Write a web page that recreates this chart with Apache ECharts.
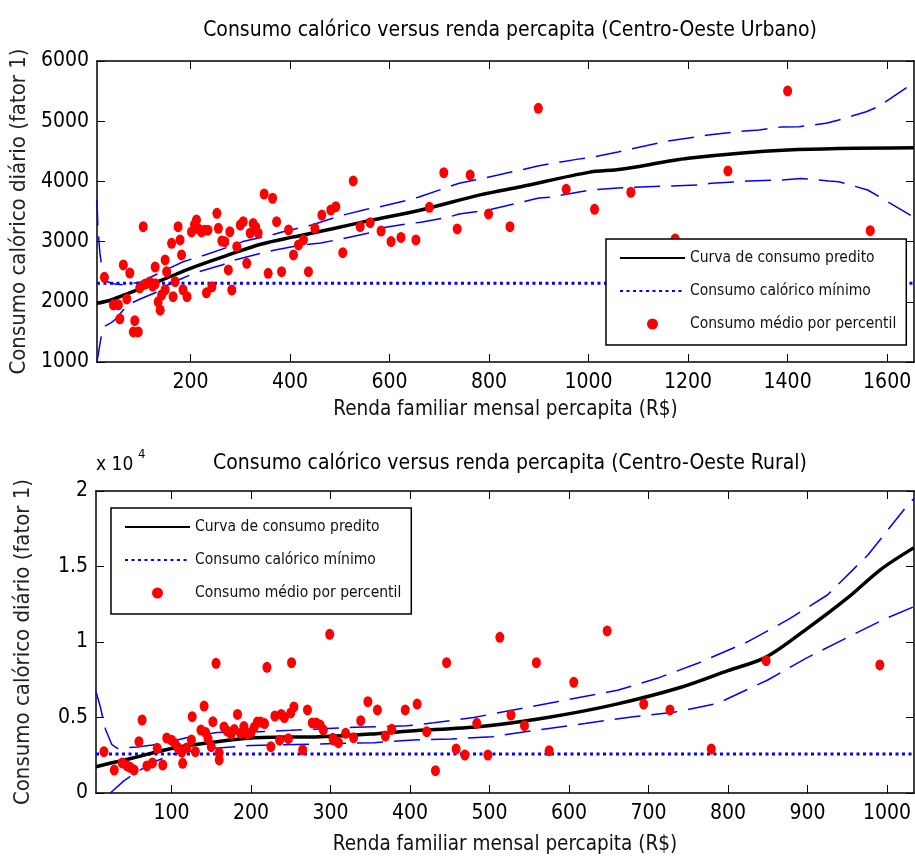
<!DOCTYPE html>
<html>
<head>
<meta charset="utf-8">
<title>Consumo calórico versus renda percapita</title>
<script src="https://cdn.jsdelivr.net/npm/echarts@6/dist/echarts.min.js"></script>
<style>
    html, body { margin: 0; padding: 0; background: #fff; }
    #chart { width: 915px; height: 861px; }
</style>
</head>
<body>
<div id="chart"></div>
<script>
// ---- Centro-Oeste Urbano ----
var urbanoXRange = [12, 1654];
var urbanoXTicks = [200, 400, 600, 800, 1000, 1200, 1400, 1600];
var urbanoYRange = [1000, 6000];
var urbanoMinimo = 2310;

var urbanoPredito = [[12, 1975], [40, 2030], [75, 2140], [142, 2360], [209, 2584], [276, 2778], [343, 2960],
    [410, 3082], [490, 3221], [560, 3350], [663, 3525], [784, 3780], [864, 3912], [1000, 4150], [1065, 4201],
    [1200, 4383], [1400, 4522], [1654, 4560]];

var urbanoSup = [[12, 3700], [14, 3200], [18, 2800], [24, 2450], [30, 2340], [45, 2300], [68, 2280], [100, 2330],
    [130, 2450], [185, 2666], [229, 2778], [283, 2930], [305, 3000], [363, 3110], [386, 3165], [444, 3275],
    [499, 3425], [556, 3540], [579, 3575], [637, 3690], [659, 3740], [717, 3905], [740, 3970], [798, 4070],
    [818, 4105], [898, 4255], [920, 4290], [979, 4370], [1001, 4390], [1059, 4490], [1160, 4671], [1220, 4742],
    [1240, 4771], [1313, 4837], [1343, 4854], [1387, 4904], [1423, 4909], [1477, 4965], [1503, 5020],
    [1558, 5158], [1582, 5241], [1642, 5573], [1654, 5640]];

var urbanoInf = [[12, 1000], [20, 1400], [27, 1590], [40, 1650], [48, 1700], [74, 1950], [100, 2050], [129, 2150],
    [147, 2250], [185, 2395], [209, 2480], [263, 2610], [289, 2695], [343, 2810], [370, 2860], [423, 2944],
    [462, 2977], [502, 3043], [559, 3143], [583, 3226], [639, 3300], [663, 3320], [720, 3410], [740, 3459],
    [798, 3525], [824, 3575], [900, 3725], [925, 3740], [981, 3824], [1005, 3857], [1059, 3890], [1162, 3924],
    [1222, 3940], [1246, 3968], [1321, 4007], [1387, 4023], [1427, 4050], [1483, 4007], [1503, 3995],
    [1561, 3857], [1584, 3746], [1644, 3453], [1654, 3400]];

var urbanoPontos = [[27, 2407], [45, 1950], [55, 1950], [58, 1715], [65, 2612], [72, 2047], [78, 2478], [88, 1686],
    [85, 1500], [95, 1500], [105, 3248], [98, 2230], [108, 2290], [118, 2330], [124, 2260], [129, 2300],
    [129, 2578], [135, 2000], [139, 1860], [149, 2695], [152, 2500], [142, 2113], [149, 2200], [165, 2085],
    [162, 2972], [175, 3248], [179, 3027], [182, 2778], [185, 2200], [193, 2085], [169, 2334], [202, 3160],
    [208, 3280], [212, 3360], [216, 3210], [222, 3160], [228, 3190], [235, 3190], [232, 2150], [243, 2250],
    [253, 3470], [256, 3221], [263, 3010], [269, 2998], [276, 2530], [279, 3165], [283, 2196], [293, 2916],
    [300, 3275], [306, 3330], [313, 2640], [320, 3140], [326, 3300], [331, 3240], [336, 3140], [348, 3790],
    [365, 3720], [356, 2474], [373, 3330], [383, 2500], [397, 3193], [407, 2778], [417, 2944], [427, 3027],
    [437, 2500], [450, 3221], [464, 3440], [482, 3525], [492, 3580], [506, 2816], [527, 4007], [541, 3250],
    [561, 3315], [583, 3176], [603, 3000], [623, 3070], [653, 3027], [680, 3570], [709, 4145], [736, 3210],
    [762, 4106], [799, 3459], [842, 3248], [899, 5214], [955, 3869], [1012, 3537], [1085, 3820], [1174, 3043],
    [1280, 4173], [1400, 5502], [1566, 3181]];

// ---- Centro-Oeste Rural ----
var ruralXRange = [5, 1034];
var ruralXTicks = [100, 200, 300, 400, 500, 600, 700, 800, 900, 1000];
var ruralYRange = [0, 20000];
var ruralMinimo = 2580;

var ruralPredito = [[5, 1740], [25, 2000], [50, 2300], [100, 2950], [150, 3350], [200, 3650], [287, 3730],
    [350, 3900], [400, 4100], [489, 4400], [573, 5000], [657, 5850], [741, 7000], [800, 8100], [848, 9000],
    [900, 10900], [950, 12900], [992, 14800], [1034, 16250]];

var ruralSup = [[5, 6700], [10, 5800], [17, 4200], [25, 3200], [32, 2950], [57, 3050], [76, 3180], [107, 3510],
    [124, 3730], [157, 4000], [208, 4060], [250, 4150], [290, 4250], [330, 4350], [396, 4450], [430, 4650],
    [480, 5000], [535, 5550], [585, 6050], [635, 6550], [661, 6800], [711, 7594], [762, 8590], [825, 10020],
    [875, 11460], [925, 13113], [976, 15760], [1026, 19070], [1034, 19500]];

var ruralInf = [[23, 0], [40, 800], [57, 1413], [80, 2100], [103, 2600], [150, 2950], [200, 3150], [287, 3245],
    [355, 3333], [404, 3510], [452, 3580], [503, 3730], [560, 4170], [620, 4600], [681, 5055], [732, 5344],
    [787, 5940], [850, 7484], [898, 8920], [948, 10245], [999, 11570], [1034, 12340]];

var ruralPontos = [[15, 2740], [28, 1520], [38, 1990], [44, 1800], [48, 1700], [53, 1520], [59, 3400], [63, 4835],
    [69, 1790], [76, 1990], [82, 2960], [89, 1855], [94, 3640], [100, 3500], [104, 3300], [108, 3000],
    [113, 2700], [114, 1967], [119, 2980], [125, 3510], [126, 5053], [130, 2740], [137, 4170], [141, 5760],
    [143, 4000], [146, 3600], [150, 3070], [152, 4722], [156, 8590], [160, 2650], [160, 2190], [166, 4370],
    [170, 4100], [175, 3900], [179, 4200], [183, 5200], [187, 3950], [191, 4400], [196, 3900], [200, 4000],
    [204, 4350], [208, 4700], [212, 4700], [217, 4600], [220, 8320], [225, 3070], [230, 5100], [236, 3500],
    [238, 5200], [242, 5000], [247, 3600], [250, 5300], [254, 5700], [251, 8630], [265, 2850], [271, 5500],
    [277, 4640], [282, 4640], [287, 4500], [291, 4170], [299, 10510], [303, 3620], [304, 3510], [310, 3330],
    [319, 3950], [329, 3665], [338, 4790], [347, 6050], [359, 5500], [369, 3775], [377, 4220], [394, 5500],
    [409, 5890], [421, 4060], [432, 1480], [446, 8630], [458, 2914], [469, 2517], [484, 4616], [498, 2517],
    [513, 10310], [527, 5166], [544, 4460], [559, 8630], [575, 2800], [606, 7330], [648, 10730], [694, 5890],
    [727, 5500], [779, 2914], [848, 8760], [991, 8480]];

var NOME_PRED = 'Curva de consumo predito';
var NOME_MIN = 'Consumo calórico mínimo';
var NOME_PONTOS = 'Consumo médio por percentil';

var FONT = "'Liberation Sans Narrow', 'Arial Narrow', 'DejaVu Sans Condensed', sans-serif";

function plain(v) {
    return String(v);
}

function makeXAxes(grid, range, ticks, gap) {
    var line = { show: true, onZero: false, lineStyle: { color: '#000', width: 1.5 } };
    var tick = { show: true, inside: true, length: 8, customValues: ticks, lineStyle: { color: '#000', width: 1 } };
    return [{
        type: 'value', gridIndex: grid, position: 'bottom',
        min: range[0], max: range[1],
        name: 'Renda familiar mensal percapita (R$)',
        nameLocation: 'middle', nameGap: gap,
        nameTextStyle: { fontFamily: FONT, fontSize: 20.5, color: '#111' },
        axisLine: line, axisTick: tick,
        axisLabel: { customValues: ticks, margin: 10, fontFamily: FONT, fontSize: 21, color: '#000', formatter: plain },
        splitLine: { show: false }
    }, {
        type: 'value', gridIndex: grid, position: 'top',
        min: range[0], max: range[1],
        axisLine: line, axisTick: tick,
        axisLabel: { show: false }, splitLine: { show: false }
    }];
}

function makeYAxes(grid, range, step, fmt) {
    var line = { show: true, onZero: false, lineStyle: { color: '#000', width: 1.5 } };
    var tick = { show: true, inside: true, length: 8, lineStyle: { color: '#000', width: 1 } };
    return [{
        type: 'value', gridIndex: grid, position: 'left',
        min: range[0], max: range[1], interval: step,
        name: 'Consumo calórico diário (fator 1)',
        nameLocation: 'middle', nameGap: 62,
        nameTextStyle: { fontFamily: FONT, fontSize: 22, color: '#222' },
        axisLine: line, axisTick: tick,
        axisLabel: { margin: 8, fontFamily: FONT, fontSize: 21, color: '#000', formatter: fmt },
        splitLine: { show: false }
    }, {
        type: 'value', gridIndex: grid, position: 'right',
        min: range[0], max: range[1], interval: step,
        axisLine: line, axisTick: tick,
        axisLabel: { show: false }, splitLine: { show: false }
    }];
}

function makeSeries(xi, yi, sup, inf, pred, minimo, xRange, pontos) {
    var band = { type: [26, 11], color: '#0000ff', width: 1.5 };
    return [
        { name: 'IC superior', type: 'line', xAxisIndex: xi, yAxisIndex: yi, data: sup, symbol: 'none',
          lineStyle: band, z: 2 },
        { name: 'IC inferior', type: 'line', xAxisIndex: xi, yAxisIndex: yi, data: inf, symbol: 'none',
          lineStyle: band, z: 2 },
        { name: NOME_MIN, type: 'line', xAxisIndex: xi, yAxisIndex: yi, symbol: 'none',
          data: [[xRange[0], minimo], [xRange[1], minimo]],
          itemStyle: { color: '#0000ff' },
          lineStyle: { color: '#0000ff', width: 3, type: [3, 3.5] }, z: 3 },
        { name: NOME_PRED, type: 'line', xAxisIndex: xi, yAxisIndex: yi, data: pred, symbol: 'none', smooth: 0.3,
          itemStyle: { color: '#000' },
          lineStyle: { color: '#000', width: 3.5 }, z: 4 },
        { name: NOME_PONTOS, type: 'scatter', xAxisIndex: xi, yAxisIndex: yi, data: pontos,
          symbol: 'circle', symbolSize: [9, 11],
          itemStyle: { color: '#ff0000', opacity: 1 }, z: 5 }
    ];
}

function makeLegend(left, top) {
    var hideDot = { opacity: 0 };
    return {
        data: [
            { name: NOME_PRED, itemStyle: hideDot },
            { name: NOME_MIN, itemStyle: hideDot },
            { name: NOME_PONTOS }
        ],
        orient: 'vertical', left: left, top: top,
        padding: [9, 10, 11, 13],
        itemWidth: 65, itemHeight: 11, itemGap: 13,
        backgroundColor: '#fff', borderColor: '#000', borderWidth: 1.5, borderRadius: 0,
        selectedMode: false,
        textStyle: { fontFamily: FONT, fontSize: 15.5, color: '#111', lineHeight: 20 },
        z: 10
    };
}

var myChart = echarts.init(document.getElementById('chart'));
var option = {
    animation: false,
    backgroundColor: '#fff',
    title: [{
        text: 'Consumo calórico versus renda percapita (Centro-Oeste Urbano)',
        left: 505, top: 15, textAlign: 'center',
        textStyle: { fontFamily: FONT, fontSize: 21, fontWeight: 'normal', color: '#000' }
    }, {
        text: 'Consumo calórico versus renda percapita (Centro-Oeste Rural)',
        left: 505, top: 448, textAlign: 'center',
        textStyle: { fontFamily: FONT, fontSize: 21, fontWeight: 'normal', color: '#000' }
    }],
    graphic: [
        { type: 'text', left: 96, top: 456, style: { text: 'x 10', fontFamily: FONT, fontSize: 19, fill: '#000' } },
        { type: 'text', left: 138, top: 448, style: { text: '4', fontFamily: FONT, fontSize: 13, fill: '#000' } }
    ],
    legend: [makeLegend(606, 239), makeLegend(111, 508)],
    grid: [
        { left: 96, top: 61, right: 1, height: 301 },
        { left: 96, top: 491, right: 1, height: 302 }
    ],
    xAxis: makeXAxes(0, urbanoXRange, urbanoXTicks, 37).concat(makeXAxes(1, ruralXRange, ruralXTicks, 41)),
    yAxis: makeYAxes(0, urbanoYRange, 1000, plain).concat(makeYAxes(1, ruralYRange, 5000, function (v) {
        return String(v / 10000);
    })),
    series: makeSeries(0, 0, urbanoSup, urbanoInf, urbanoPredito, urbanoMinimo, urbanoXRange, urbanoPontos)
        .concat(makeSeries(2, 2, ruralSup, ruralInf, ruralPredito, ruralMinimo, ruralXRange, ruralPontos))
};
myChart.setOption(option);
</script>
</body>
</html>
